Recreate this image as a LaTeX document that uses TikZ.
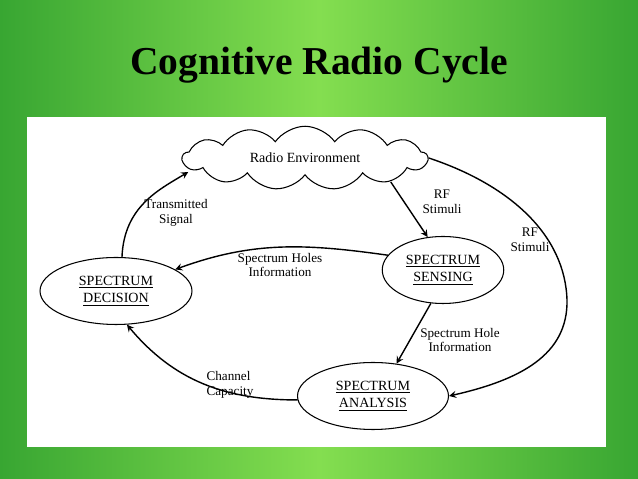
\documentclass[tikz,border=0pt]{standalone}
\usepackage{fontspec}
\setmainfont{Liberation Serif}
\usetikzlibrary{shapes,arrows,positioning,calc}
\definecolor{slidegreen}{RGB}{56,166,50}
\definecolor{slidelight}{RGB}{132,222,80}

\begin{document}
\begin{tikzpicture}[x=0.02cm, y=0.02cm]
  \tikzstyle{stage} = [ellipse, draw=black, line width=0.6pt, minimum width=3cm, minimum height=1.34cm, align=center, font=\fontsize{8}{10}\selectfont]
  \tikzstyle{env} = [cloud, cloud puffs=13, cloud puff arc=110, aspect=4, draw=black, line width=0.6pt, minimum width=4.9cm, minimum height=1.24cm, font=\fontsize{8}{10}\selectfont]
  \tikzstyle{note} = [align=center, font=\fontsize{7.5}{8.5}\selectfont]
  \tikzstyle{arrow} = [line width=0.8pt,->,>=stealth]
  % slide background
  \useasboundingbox (0,0) rectangle (638,479);
  \shade[left color=slidegreen, right color=slidegreen, middle color=slidelight] (0,0) rectangle (638,479);
  \fill[white] (27,32) rectangle (606,362);
  \node (title) at (319,414) {\fontsize{22.5}{27}\selectfont\bfseries Cognitive Radio Cycle};
  % cycle
  \node (radioenv) [env] at (305,321) {Radio Environment};
  \coordinate (envleft) at ($(radioenv.west)+(7,-14)$);
  \coordinate (envlow) at ($(radioenv.east)+(-38,-24)$);
  \node (decision) [stage, minimum width=3.04cm] at (116,188) {\underline{SPECTRUM}\\\underline{DECISION}};
  \node (sensing) [stage, minimum width=2.24cm] at (443,209) {\underline{SPECTRUM}\\\underline{SENSING}};
  \node (analysis) [stage, minimum width=3.02cm] at (373,83) {\underline{SPECTRUM}\\\underline{ANALYSIS}};
  \node (transmitted) [note] at (176,266) {Transmitted\\Signal};
  \node (rfnear) [note] at (442,277) {RF\\Stimuli};
  \node (rffar) [note] at (530,239) {RF\\Stimuli};
  \node (holes) [note] at (280,214) {Spectrum Holes\\Information};
  \node (hole) [note] at (460,139) {Spectrum Hole\\Information};
  \node (capacity) [note, align=left] at (230,94) {Channel\\Capacity};
  \draw [arrow] (decision.80) .. controls +(2,50) and +(-30,-18) .. (envleft);
  \draw [arrow] (envlow) -- (sensing.115);
  \draw [arrow] (radioenv.east) .. controls (510,294) and (565,244) .. (567,179) .. controls (568,124) and (520,99) .. (analysis.east);
  \draw [arrow] (sensing.165) to[out=172, in=20] (decision.20);
  \draw [arrow] (sensing.250) -- (analysis.54);
  \draw [arrow] (analysis.183) to[out=180, in=-50] (decision.288);
\end{tikzpicture}
\end{document}
